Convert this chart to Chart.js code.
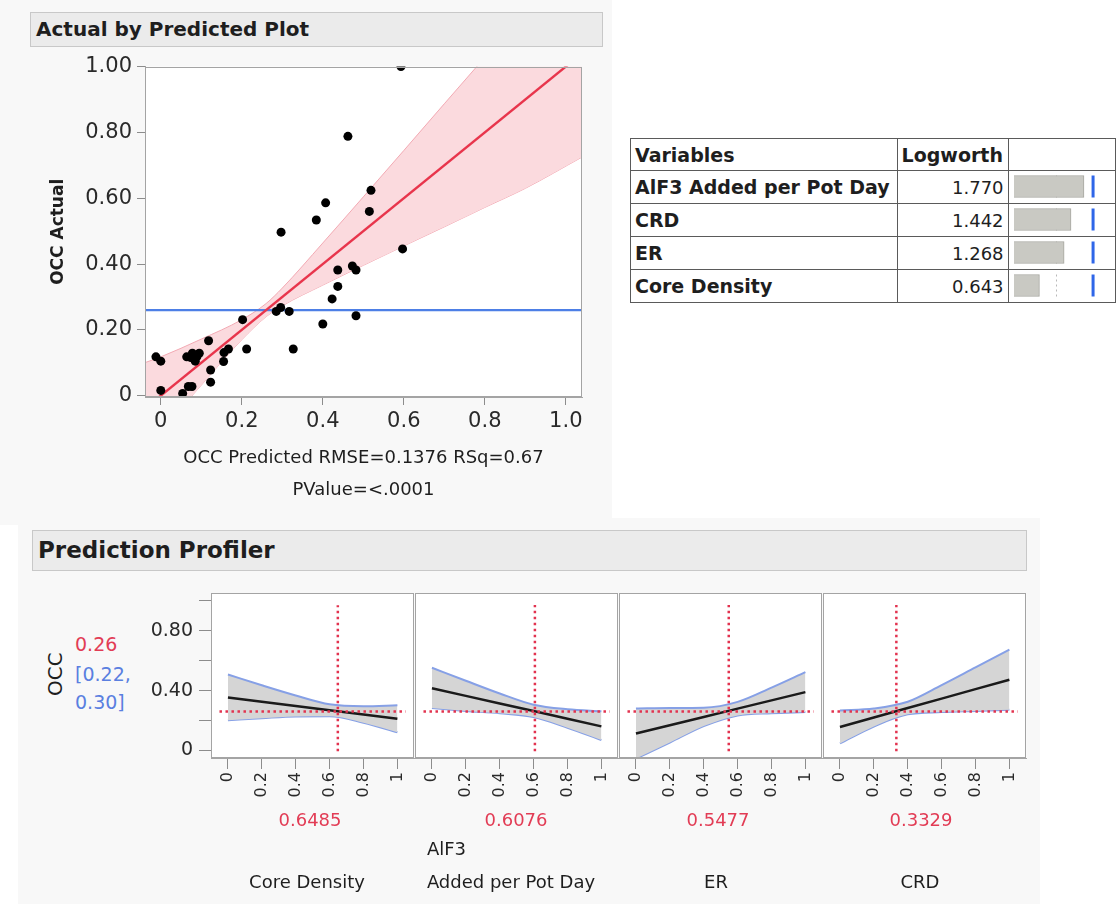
<!DOCTYPE html>
<html lang="en">
<head>
<meta charset="utf-8">
<title>Actual by Predicted Plot / Prediction Profiler</title>
<script src="https://cdn.jsdelivr.net/npm/chart.js@4.4.1/dist/chart.umd.min.js"></script>
<style>
  html, body { margin: 0; padding: 0; }
  body {
    position: relative; width: 1116px; height: 904px; overflow: hidden;
    background: #fff; font-family: "DejaVu Sans", sans-serif; color: #1e1e1e;
  }
  .panel-bg { position: absolute; background: #f8f8f8; }
  .bar-title {
    position: absolute; box-sizing: border-box; background: #ebebeb;
    border: 1px solid #c8c8c8; font-weight: bold; padding-left: 5px; white-space: nowrap;
  }
  canvas { position: absolute; }
  .lbl { position: absolute; white-space: nowrap; line-height: 1; }
  .red { color: #e23c55; }
  .blue { color: #5a7fe0; }

  #logworth { position: absolute; left: 630px; top: 138px; border-collapse: collapse; table-layout: fixed; }
  #logworth th, #logworth td { border: 1px solid #5a5a5a; padding: 0 4px; box-sizing: border-box; white-space: nowrap; }
  #logworth th { height: 32px; font-size: 19px; text-align: left; }
  #logworth td { height: 33px; font-size: 19px; font-weight: bold; }
  #logworth td.num { font-weight: normal; font-size: 18px; text-align: right; }
</style>
</head>
<body>

<div class="panel-bg" style="left:0; top:0; width:612px; height:525px;"></div>
<div class="panel-bg" style="left:18px; top:518px; width:1022px; height:386px;"></div>

<div class="bar-title" style="left:30px; top:12px; width:573px; height:35px; font-size:20px; line-height:33px;">Actual by Predicted Plot</div>
<div class="bar-title" style="left:32px; top:530px; width:995px; height:41px; font-size:23px; line-height:39px;">Prediction Profiler</div>

<canvas id="avpChart" width="612" height="461" style="left:0; top:49px;"></canvas>

<table id="logworth">
  <colgroup><col style="width:267px"><col style="width:111px"><col style="width:120px"></colgroup>
</table>
<canvas id="lwBars" width="107" height="132" style="left:1009px; top:170px;"></canvas>

<!-- profiler: response label on the left -->
<div class="lbl" style="font-size:20px; transform:rotate(-90deg); transform-origin:0 0; left:45px; top:696px;">OCC</div>
<div class="lbl red" style="left:75px; top:635px; font-size:19px;">0.26</div>
<div class="lbl blue" style="left:75px; top:665px; font-size:19px;">[0.22,</div>
<div class="lbl blue" style="left:75px; top:693px; font-size:19px;">0.30]</div>

<canvas id="prof0" width="400" height="249" style="left:20px; top:576px;"></canvas>
<canvas id="prof1" width="214" height="249" style="left:410px; top:576px;"></canvas>
<canvas id="prof2" width="214" height="249" style="left:614px; top:576px;"></canvas>
<canvas id="prof3" width="214" height="249" style="left:818px; top:576px;"></canvas>

<div id="profLabels"></div>

<script>
/* -----------------------------------------------
   Data
   ----------------------------------------------- */

// Actual by Predicted
const predicted = [0.593, 0.462, 0.519, 0.407, 0.384, 0.515, 0.297, 0.597, 0.437, 0.473,
                   0.482, 0.437, 0.423, 0.285, 0.296, 0.317, 0.482, 0.400, 0.202, 0.327,
                   0.212, 0.118, 0.167, 0.156, 0.155, 0.123, 0.123, -0.012, 0.000, 0.000,
                   0.064, 0.078, 0.095, 0.085, 0.074, 0.068, 0.077, 0.054, 0.089];
const actual    = [1.000, 0.788, 0.624, 0.586, 0.534, 0.560, 0.497, 0.446, 0.382, 0.394,
                   0.382, 0.332, 0.294, 0.256, 0.268, 0.256, 0.243, 0.218, 0.231, 0.142,
                   0.142, 0.167, 0.142, 0.131, 0.104, 0.078, 0.041, 0.118, 0.105, 0.016,
                   0.118, 0.129, 0.129, 0.105, 0.116, 0.028, 0.028, 0.007, 0.118];

const fitX = [-0.04, 1.04];
const fitY = [-0.04, 1.04];
const meanActual = 0.26;

const bandX     = [-0.04, 0, 0.1, 0.2, 0.26, 0.3, 0.4, 0.5, 0.6, 0.7, 0.8, 0.9, 1.04];
const bandUpper = [0.100, 0.118, 0.172, 0.231, 0.280, 0.327, 0.464, 0.604, 0.745, 0.887, 1.028, 1.170, 1.368];
const bandLower = [-0.165, -0.108, 0.032, 0.170, 0.240, 0.273, 0.336, 0.396, 0.455, 0.513, 0.572, 0.630, 0.725];

const avpXTicks  = [0, 0.2, 0.4, 0.6, 0.8, 1.0];
const avpXLabels = ["0", "0.2", "0.4", "0.6", "0.8", "1.0"];
const avpYTicks  = [0, 0.2, 0.4, 0.6, 0.8, 1.0];
const avpYLabels = ["0", "0.20", "0.40", "0.60", "0.80", "1.00"];

// Logworth table
const variables = ["AlF3 Added per Pot Day", "CRD", "ER", "Core Density"];
const logworth  = [1.770, 1.442, 1.268, 0.643];
const sigLine = 2.0;      // blue reference mark
const dashLine = 1.07;    // dotted reference mark

// Prediction profiler
const factors  = ["Core Density", "AlF3 Added per Pot Day", "ER", "CRD"];
const currentX = [0.6485, 0.6076, 0.5477, 0.3329];
const predOCC  = 0.26;

const profX = [0, 0.2, 0.4, 0.6, 0.8, 1];

const predCoreDensity  = [0.355, 0.326, 0.298, 0.269, 0.241, 0.212];
const upperCoreDensity = [0.508, 0.436, 0.368, 0.309, 0.296, 0.302];
const lowerCoreDensity = [0.202, 0.216, 0.228, 0.229, 0.186, 0.122];

const predAlF3  = [0.415, 0.364, 0.313, 0.263, 0.212, 0.161];
const upperAlF3 = [0.552, 0.465, 0.380, 0.305, 0.275, 0.262];
const lowerAlF3 = [0.283, 0.264, 0.248, 0.223, 0.152, 0.070];

const predER  = [0.113, 0.168, 0.223, 0.279, 0.334, 0.389];
const upperER = [0.280, 0.283, 0.285, 0.324, 0.419, 0.522];
const lowerER = [-0.054, 0.053, 0.163, 0.234, 0.249, 0.256];

const predCRD  = [0.157, 0.220, 0.283, 0.346, 0.409, 0.472];
const upperCRD = [0.267, 0.280, 0.325, 0.436, 0.554, 0.672];
const lowerCRD = [0.047, 0.160, 0.241, 0.256, 0.264, 0.272];

const profPred  = [predCoreDensity, predAlF3, predER, predCRD];
const profUpper = [upperCoreDensity, upperAlF3, upperER, upperCRD];
const profLower = [lowerCoreDensity, lowerAlF3, lowerER, lowerCRD];

const profXTicks  = [0, 0.2, 0.4, 0.6, 0.8, 1];
const profXLabels = ["0", "0.2", "0.4", "0.6", "0.8", "1"];
const profYTicks  = [0, 0.2, 0.4, 0.6, 0.8, 1.0];
const profYLabels = ["0", "", "0.40", "", "0.80", ""];

/* -----------------------------------------------
   Shared bits
   ----------------------------------------------- */

Chart.defaults.font.family = "'DejaVu Sans', sans-serif";
Chart.defaults.color = "#2a2a2a";

const RED = "#e2334f";
const pts = (xs, ys) => xs.map((x, i) => ({ x: x, y: ys[i] }));

// white plot background + grey frame around the chart area
const framePlugin = {
    id: "frame",
    beforeDraw(chart) {
        const { ctx, chartArea: a } = chart;
        ctx.save();
        ctx.fillStyle = "#fff";
        ctx.fillRect(a.left, a.top, a.width, a.height);
        ctx.restore();
    },
    afterDatasetsDraw(chart) {
        const { ctx, chartArea: a } = chart;
        ctx.save();
        ctx.strokeStyle = "#a4a4a4";
        ctx.lineWidth = 1;
        ctx.strokeRect(Math.round(a.left) + 0.5, Math.round(a.top) + 0.5,
                       Math.round(a.width) - 1, Math.round(a.height) - 1);
        ctx.restore();
    }
};

/* -----------------------------------------------
   Actual by Predicted Plot
   ----------------------------------------------- */

new Chart(document.getElementById("avpChart"), {
    type: "scatter",
    data: {
        datasets: [
            {
                data: pts(predicted, actual),
                pointRadius: 4.5,
                pointBackgroundColor: "#000",
                pointBorderWidth: 0,
                clip: 0
            },
            {
                data: pts(fitX, fitY),
                showLine: true, pointRadius: 0,
                borderColor: "#e8354c", borderWidth: 2.4, clip: 0
            },
            {
                data: [{ x: -0.04, y: meanActual }, { x: 1.04, y: meanActual }],
                showLine: true, pointRadius: 0,
                borderColor: "#4d7fe6", borderWidth: 2.4, clip: 0
            },
            {
                data: pts(bandX, bandUpper),
                showLine: true, pointRadius: 0,
                borderColor: "#f2a9b3", borderWidth: 1,
                cubicInterpolationMode: "monotone",
                fill: "+1", backgroundColor: "#fbdade", clip: 0
            },
            {
                data: pts(bandX, bandLower),
                showLine: true, pointRadius: 0,
                borderColor: "#f2a9b3", borderWidth: 1,
                cubicInterpolationMode: "monotone", clip: 0
            }
        ]
    },
    options: {
        responsive: false,
        animation: false,
        layout: { padding: { top: 0, right: 30, left: 0, bottom: 0 } },
        plugins: { legend: { display: false }, tooltip: { enabled: false } },
        scales: {
            x: {
                min: -0.039, max: 1.04,
                afterBuildTicks: s => { s.ticks = avpXTicks.map(v => ({ value: v })); },
                afterFit: s => { s.height = 113; },
                grid: { drawOnChartArea: false, tickLength: 8, color: "#8c8c8c" },
                border: { color: "#a4a4a4" },
                ticks: { font: { size: 21 }, padding: 4, autoSkip: false, maxRotation: 0,
                         callback: (v, i) => avpXLabels[i] },
                title: {
                    display: true,
                    text: ["OCC Predicted RMSE=0.1376 RSq=0.67", "PValue=<.0001"],
                    font: { size: 18, lineHeight: 1.8 },
                    padding: { top: 0, bottom: 3 },
                    color: "#1e1e1e"
                }
            },
            y: {
                min: -0.004, max: 1.0,
                afterBuildTicks: s => { s.ticks = avpYTicks.map(v => ({ value: v })); },
                afterFit: s => { s.width = 145; },
                grid: { drawOnChartArea: false, tickLength: 8, color: "#8c8c8c" },
                border: { color: "#a4a4a4" },
                ticks: { font: { size: 21 }, padding: 5, autoSkip: false,
                         callback: (v, i) => avpYLabels[i] },
                title: {
                    display: true, text: "OCC Actual",
                    font: { size: 17, weight: "bold" },
                    padding: { top: 48, bottom: 0 },
                    color: "#1e1e1e"
                }
            }
        }
    },
    plugins: [framePlugin]
});

/* -----------------------------------------------
   Logworth table + bars
   ----------------------------------------------- */

let rows = "<tr><th>Variables</th><th>Logworth</th><th></th></tr>";
variables.forEach((v, i) => {
    rows += "<tr><td>" + v + "</td><td class='num'>" + logworth[i].toFixed(3) + "</td><td></td></tr>";
});
document.getElementById("logworth").insertAdjacentHTML("beforeend", rows);

const refMarks = {
    id: "refMarks",
    beforeDatasetsDraw(chart) {
        const { ctx, scales: { x, y } } = chart;
        ctx.save();
        ctx.strokeStyle = "#b8b8b8";
        ctx.lineWidth = 1;
        ctx.setLineDash([2, 3]);
        variables.forEach((v, i) => {
            const cy = y.getPixelForValue(i);
            const px = Math.round(x.getPixelForValue(dashLine)) + 0.5;
            ctx.beginPath(); ctx.moveTo(px, cy - 11); ctx.lineTo(px, cy + 11); ctx.stroke();
        });
        ctx.restore();
    },
    afterDatasetsDraw(chart) {
        const { ctx, scales: { x, y } } = chart;
        ctx.save();
        ctx.strokeStyle = "#2f66e8";
        ctx.lineWidth = 3;
        variables.forEach((v, i) => {
            const cy = y.getPixelForValue(i);
            const px = x.getPixelForValue(sigLine);
            ctx.beginPath(); ctx.moveTo(px, cy - 11); ctx.lineTo(px, cy + 11); ctx.stroke();
        });
        ctx.restore();
    }
};

new Chart(document.getElementById("lwBars"), {
    type: "bar",
    data: {
        labels: variables,
        datasets: [{
            data: logworth,
            backgroundColor: "#c9c9c3",
            borderColor: "#a6a6a0",
            borderWidth: 1,
            barThickness: 22
        }]
    },
    options: {
        indexAxis: "y",
        responsive: false,
        animation: false,
        layout: { padding: { left: 5, right: 0, top: 0, bottom: 0 } },
        plugins: { legend: { display: false }, tooltip: { enabled: false } },
        scales: {
            x: { display: false, min: 0, max: 2.58 },
            y: { display: false }
        }
    },
    plugins: [refMarks]
});

/* -----------------------------------------------
   Prediction Profiler panels
   ----------------------------------------------- */

function profilerPanel(id, k, withY) {
    const curve = { showLine: true, pointRadius: 0, clip: 0 };
    return new Chart(document.getElementById(id), {
        type: "scatter",
        data: {
            datasets: [
                Object.assign({}, curve, {
                    data: [{ x: currentX[k], y: -0.005 }, { x: currentX[k], y: 0.97 }],
                    borderColor: RED, borderWidth: 2.5, borderDash: [2.5, 3.5]
                }),
                Object.assign({}, curve, {
                    data: [{ x: -0.05, y: predOCC }, { x: 1.05, y: predOCC }],
                    borderColor: RED, borderWidth: 2.5, borderDash: [2.5, 3.5]
                }),
                Object.assign({}, curve, {
                    data: pts(profX, profPred[k]),
                    borderColor: "#1a1a1a", borderWidth: 2.5
                }),
                Object.assign({}, curve, {
                    data: pts(profX, profUpper[k]),
                    borderColor: "#86a0e6", borderWidth: 2,
                    cubicInterpolationMode: "monotone",
                    fill: "+1", backgroundColor: "#d5d5d5"
                }),
                Object.assign({}, curve, {
                    data: pts(profX, profLower[k]),
                    borderColor: "#86a0e6", borderWidth: 2,
                    cubicInterpolationMode: "monotone"
                })
            ]
        },
        options: {
            responsive: false,
            animation: false,
            // panel with the y axis gets its top inset from the tick label padding
            layout: { padding: { top: withY ? 0 : 17, right: 5, left: withY ? 0 : 5, bottom: 0 } },
            plugins: { legend: { display: false }, tooltip: { enabled: false } },
            scales: {
                x: {
                    min: -0.1, max: 1.1,
                    afterBuildTicks: s => { s.ticks = profXTicks.map(v => ({ value: v })); },
                    afterFit: s => { s.height = 67; },
                    grid: { drawOnChartArea: false, tickLength: 11, color: "#8c8c8c" },
                    border: { color: "#a4a4a4" },
                    ticks: { font: { size: 16 }, padding: 3, autoSkip: false,
                             minRotation: 90, maxRotation: 90,
                             callback: (v, i) => profXLabels[i] }
                },
                y: {
                    display: withY,
                    min: -0.05, max: 1.05,
                    afterBuildTicks: s => { s.ticks = profYTicks.map(v => ({ value: v })); },
                    afterFit: s => { if (withY) s.width = 191; },
                    grid: { drawOnChartArea: false, tickLength: 12, color: "#8c8c8c" },
                    border: { color: "#a4a4a4" },
                    ticks: { font: { size: 19 }, padding: 6, autoSkip: false,
                             callback: (v, i) => profYLabels[i] }
                }
            }
        },
        plugins: [framePlugin]
    });
}

factors.forEach((f, k) => profilerPanel("prof" + k, k, k === 0));

// current factor values and factor names under each panel
const valueCenters = [310, 516, 718, 921];
const nameCenters  = [307, 511, 716, 920];
const holder = document.getElementById("profLabels");
factors.forEach((f, k) => {
    const v = document.createElement("div");
    v.className = "lbl red";
    v.style.cssText = "font-size:18px; top:811px; left:" + valueCenters[k] + "px; transform:translateX(-50%);";
    v.textContent = currentX[k].toFixed(4);
    holder.appendChild(v);

    const n = document.createElement("div");
    n.className = "lbl";
    n.style.cssText = "font-size:18px; line-height:33px; top:832px; left:" + nameCenters[k] +
                      "px; transform:translateX(-50%); text-align:left; white-space:normal;";
    if (f === "AlF3 Added per Pot Day") {
        n.innerHTML = "AlF3<br>Added per Pot Day";
    } else {
        n.innerHTML = "<br>" + f;
    }
    holder.appendChild(n);
});
</script>
</body>
</html>
